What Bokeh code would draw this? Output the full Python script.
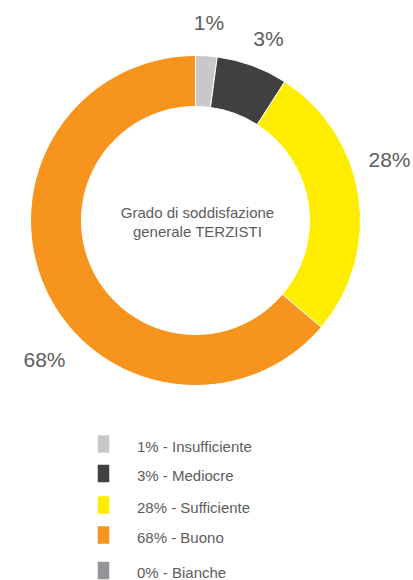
import numpy as np
from bokeh.plotting import figure
from bokeh.models import Range1d, ColumnDataSource
from bokeh.embed import file_html
from bokeh.resources import INLINE
from bokeh.core.properties import value

# ---- data ----
categories = ["Insufficiente", "Mediocre", "Sufficiente", "Buono"]
slice_values = [2.1, 7.0, 27.1, 63.8]          # slice sizes as drawn
slice_labels = ["1%", "3%", "28%", "68%"]       # printed labels
slice_colors = ["#c7c8ca", "#404040", "#ffed00", "#f7941e"]
legend_labels = ["1% - Insufficiente", "3% - Mediocre", "28% - Sufficiente",
                 "68% - Buono", "0% - Bianche"]
legend_colors = slice_colors + ["#939598"]
center_title = ["Grado di soddisfazione", "generale TERZISTI"]

FONT = value("Liberation Sans")
TXT = "#5c5c5c"

W, H = 413, 580
def fy(py):  # picture pixel y -> data y
    return H - py

p = figure(width=W, height=H, x_range=Range1d(0, W), y_range=Range1d(0, H),
           output_backend="svg", toolbar_location=None, min_border=0,
           x_axis_type=None, y_axis_type=None)
p.grid.visible = False
p.outline_line_color = None
p.background_fill_color = "white"

# donut
vals = np.array(slice_values, dtype=float)
frac = vals / vals.sum()
cum = np.concatenate([[0.0], np.cumsum(frac)])
start = np.pi / 2 - 2 * np.pi * cum[:-1]
end = np.pi / 2 - 2 * np.pi * cum[1:]
src = ColumnDataSource(dict(cat=categories, start=start, end=end, color=slice_colors))
cx, cy = 195, fy(220)
p.annular_wedge(x=cx, y=cy, inner_radius=114, outer_radius=165,
                start_angle="start", end_angle="end", direction="clock",
                fill_color="color", line_color="white", line_width=1, source=src)

# slice labels
lab_x = [208.5, 268, 410, 44]
lab_y = [fy(22), fy(38), fy(158.5), fy(359)]
lab_align = ["center", "center", "right", "center"]
p.text(x=lab_x, y=lab_y, text=slice_labels, text_align=lab_align,
       text_baseline="middle", text_font=FONT, text_font_size="21px", text_color=TXT)

# center title
p.text(x=[197, 197], y=[fy(212), fy(231)], text=center_title, text_align="center",
       text_baseline="middle", text_font=FONT, text_font_size="15px", text_color=TXT)

# legend
leg_y = [443.5, 473, 504.5, 534.5, 570]
p.rect(x=[103] * len(legend_labels), y=[fy(v) for v in leg_y], width=11.5, height=17.5,
       fill_color=legend_colors, line_color=None)
p.text(x=[136.5] * len(legend_labels), y=[fy(v + 2) for v in leg_y], text=legend_labels,
       text_align="left", text_baseline="middle", text_font=FONT,
       text_font_size="15px", text_color=TXT)

open("out.html", "w").write(file_html(p, INLINE))
